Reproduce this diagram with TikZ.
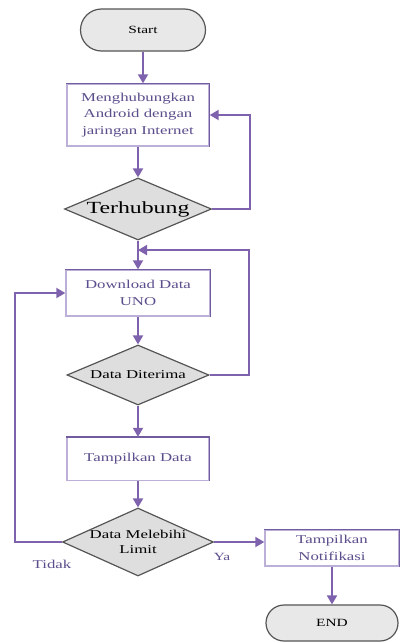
\documentclass[tikz,border=0pt]{standalone}
\usepackage{fontspec}
\setmainfont{Liberation Serif}[FakeStretch=1.4]
\usepackage{xcolor}
\usepackage{tikz}
\usetikzlibrary{positioning, shapes.geometric, shapes.misc, arrows.meta, calc}
\definecolor{fcLine}{HTML}{7E62AE}
\definecolor{fcBoxLight}{HTML}{BDB0D8}
\definecolor{fcBoxDark}{HTML}{705C9E}
\definecolor{fcText}{HTML}{5B4E8C}
\definecolor{fcGray}{HTML}{DEDEDE}
\definecolor{fcGrayEdge}{HTML}{555555}
\tikzset{
  terminal/.style={
    rounded rectangle, rounded rectangle arc length=180,
    draw=fcGrayEdge, line width=1.2pt,
    fill=fcGray!70,
    inner sep=0pt,
    font=\fontsize{11}{13}\selectfont
  },
  procbox/.style={
    rectangle,
    draw=fcBoxLight, line width=1.4pt,
    fill=white,
    inner sep=0pt,
    align=center, text=fcText,
    font=\fontsize{12}{16.5}\selectfont
  },
  boxedge/.style={fcBoxDark, line width=1.4pt},
  decision/.style={
    diamond, aspect=2.4,
    draw=fcGrayEdge, line width=1.2pt,
    fill=fcGray,
    inner sep=0pt,
    align=center,
    font=\fontsize{12}{15}\selectfont
  },
  flowarrow/.style={
    -{Triangle[length=9pt, width=10pt]},
    fcLine, line width=2pt
  },
  flowlabel/.style={text=fcText, font=\fontsize{12}{14}\selectfont}
}

\begin{document}
\begin{tikzpicture}[x=1pt, y=-1pt]
  \useasboundingbox (0,0) rectangle (400,643);
  % main column
  \node[terminal, minimum width=125pt, minimum height=42pt] (start) at (143,30) {Start};
  \node[procbox, minimum width=142pt, minimum height=62pt] (b1) at (138,115)
    {Menghubungkan\\Android dengan\\jaringan Internet};
  \node[decision, minimum width=147pt, minimum height=62pt,
    font=\fontsize{17}{19}\selectfont] (d1) at (138,209) {Terhubung};
  \node[procbox, minimum width=144pt, minimum height=46pt] (b2) at (138,293)
    {Download Data\\UNO};
  \node[decision, minimum width=142pt, minimum height=60pt] (d2) at (138,375) {Data Diterima};
  \node[procbox, minimum width=142pt, minimum height=43pt] (b3) at (138,459) {Tampilkan Data};
  \node[decision, minimum width=151pt, minimum height=68pt, inner sep=-6pt] (d3) at (138,542)
    {Data Melebihi\\Limit};
  % right branch
  \node[procbox, minimum width=134pt, minimum height=36pt] (b4) at (332,548)
    {Tampilkan\\Notifikasi};
  \node[terminal, minimum width=132pt, minimum height=36pt] (end) at (332,623) {END};
  \draw[boxedge] (b1.north west) -- (b1.north east) -- (b1.south east);
  \draw[boxedge] (b2.north west) -- (b2.north east) -- (b2.south east);
  \draw[boxedge] (b3.north west) -- (b3.north east) -- (b3.south east);
  \draw[boxedge] (b4.north west) -- (b4.north east) -- (b4.south east);
  \coordinate (j1) at ($(d1.south)!0.33!(b2.north)$);
  % connectors
  \draw[flowarrow] (start.south) -- (start.south |- b1.north);
  \draw[flowarrow] (b1) -- (d1);
  \draw[flowarrow] (d1) -- (b2);
  \draw[flowarrow] (b2) -- (d2);
  \draw[flowarrow] (d2) -- (b3);
  \draw[flowarrow] (b3) -- (d3);
  \draw[flowarrow] (d1.east) -- ++(38,0) |- (b1.east);
  \draw[flowarrow] (d2.east) -- ++(39,0) |- (j1);
  \draw[flowarrow] (d3.west) -- ++(-47,0) |- (b2.west);
  \draw[flowarrow] (d3.east) -- (d3.east -| b4.west);
  \draw[flowarrow] (b4) -- (end);
  \node[flowlabel] (tidak) at (52,564) {Tidak};
  \node[flowlabel, font=\fontsize{11}{13}\selectfont] (ya) at (222,557) {Ya};
\end{tikzpicture}
\end{document}
